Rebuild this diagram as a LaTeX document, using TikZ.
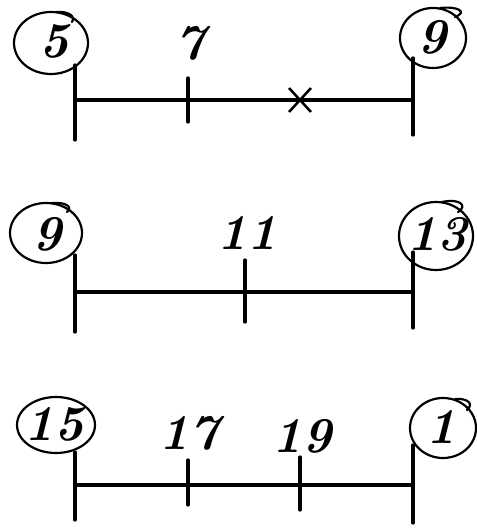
\documentclass[tikz,border=0pt]{standalone}
\begin{document}
\begin{tikzpicture}[x=1pt,y=-1pt,
  axis/.style={line width=3.2pt,line cap=round},
  tickmark/.style={line width=3.2pt,line cap=round},
  num/.style={font=\fontsize{50}{50}\selectfont\bfseries\itshape,inner sep=0pt},
  ringline/.style={line width=2.2pt,line cap=round}]
\useasboundingbox (0,0) rectangle (476,529);
% ---------- line 1 ----------
\coordinate (a1t) at (75,65);  \coordinate (a1b) at (75,140);
\coordinate (a1l) at (75,100); \coordinate (a1r) at (413,100);
\coordinate (b1t) at (413,58); \coordinate (b1b) at (413,135);
\coordinate (t1t) at (188,78); \coordinate (t1b) at (188,122);
\draw[axis] (a1t) -- (a1b);
\draw[axis] (b1t) -- (b1b);
\draw[axis] (a1l) -- (a1r);
\draw[tickmark] (t1t) -- (t1b);
\node[num] (n5) at (54,41) {5};
\draw[ringline] (51,43) ellipse [x radius=37pt, y radius=31pt];
\draw[ringline] (56,12) .. controls (68,11) and (76,16) .. (72,22);
\node[num] (n7) at (190,43) {7};
\node[num] (n9a) at (432,37) {9};
\draw[ringline] (433,38) ellipse [x radius=33pt, y radius=30pt];
\draw[ringline] (440,8) .. controls (458,6) and (468,12) .. (455,17);
\coordinate (x1) at (300,100);
\draw[line width=2.5pt] ([shift={(-11,-12)}]x1) -- ([shift={(11,12)}]x1)
                        ([shift={(11,-12)}]x1) -- ([shift={(-11,12)}]x1);
% ---------- line 2 ----------
\coordinate (a2t) at (75,255);  \coordinate (a2b) at (75,332);
\coordinate (a2l) at (75,292);  \coordinate (a2r) at (413,292);
\coordinate (b2t) at (413,252); \coordinate (b2b) at (413,328);
\coordinate (t2t) at (245,260); \coordinate (t2b) at (245,322);
\draw[axis] (a2t) -- (a2b);
\draw[axis] (b2t) -- (b2b);
\draw[axis] (a2l) -- (a2r);
\draw[tickmark] (t2t) -- (t2b);
\node[num] (n9b) at (47,234) {9};
\draw[ringline] (46,233) ellipse [x radius=36pt, y radius=30pt];
\draw[ringline] (52,203) .. controls (66,202) and (73,207) .. (67,212);
\node[num] (n11) at (247,233) {11};
\node[num] (n13) at (437,234) {13};
\draw[ringline] (436,236) ellipse [x radius=37pt, y radius=34pt];
\draw[ringline] (442,202) .. controls (460,198) and (468,206) .. (458,212);
% ---------- line 3 ----------
\coordinate (a3t) at (75,452);  \coordinate (a3b) at (75,520);
\coordinate (a3l) at (75,485);  \coordinate (a3r) at (413,485);
\coordinate (b3t) at (413,445); \coordinate (b3b) at (413,523);
\coordinate (t3t) at (188,460); \coordinate (t3b) at (188,505);
\coordinate (u3t) at (300,457); \coordinate (u3b) at (300,510);
\draw[axis] (a3t) -- (a3b);
\draw[axis] (b3t) -- (b3b);
\draw[axis] (a3l) -- (a3r);
\draw[tickmark] (t3t) -- (t3b);
\draw[tickmark] (u3t) -- (u3b);
\node[num] (n15) at (54,424) {15};
\draw[ringline] (56,425) ellipse [x radius=39pt, y radius=28pt];
\node[num] (n17) at (189,433) {17};
\node[num] (n19) at (302,436) {19};
\node[num] (n1) at (441,427) {1};
\draw[ringline] (443,428) ellipse [x radius=33pt, y radius=30pt];
\draw[ringline] (455,399) .. controls (468,398) and (474,404) .. (467,410);
\end{tikzpicture}
\end{document}
